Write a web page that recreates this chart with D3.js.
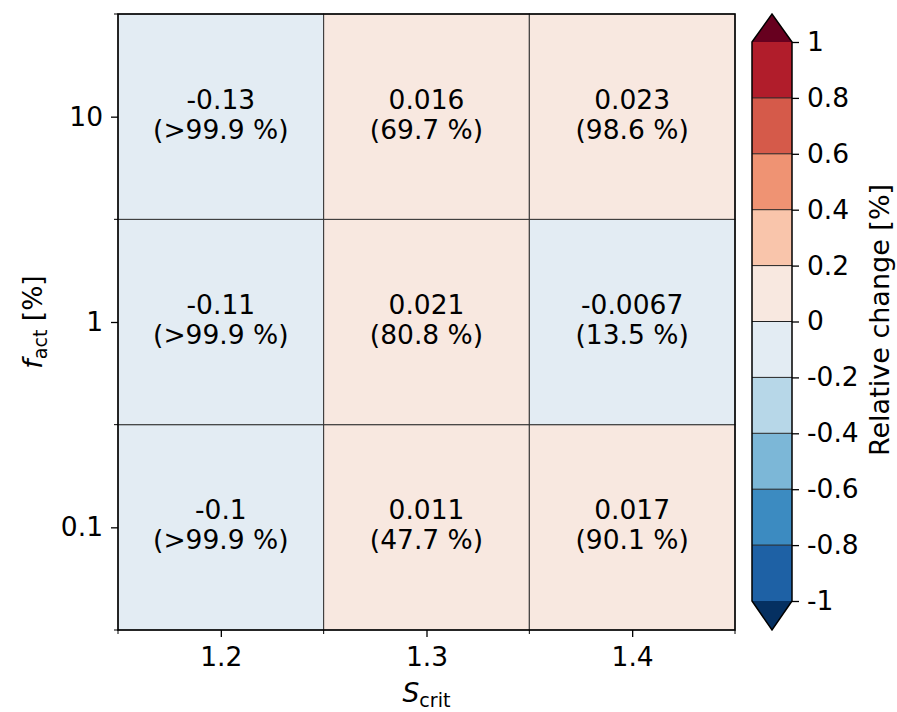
<!DOCTYPE html>
<html><head><meta charset="utf-8">
<script src="https://cdn.jsdelivr.net/npm/d3@7"></script>
<style>body{margin:0;background:#fff}svg{display:block;font-family:"DejaVu Sans",sans-serif}</style>
</head><body><svg id="c" width="897" height="712"></svg>
<script>
const sCrit = [1.2, 1.3, 1.4];
const fAct = [0.1, 1, 10];
const valLabels = [ // rows by fAct (0.1, 1, 10), columns by sCrit
  ["-0.1", "0.011", "0.017"],
  ["-0.11", "0.021", "-0.0067"],
  ["-0.13", "0.016", "0.023"]
];
const values = [
  [-0.1, 0.011, 0.017],
  [-0.11, 0.021, -0.0067],
  [-0.13, 0.016, 0.023]
];
const probs = [
  [">99.9", "47.7", "90.1"],
  [">99.9", "80.8", "13.5"],
  [">99.9", "69.7", "98.6"]
];
const levels = [-1, -0.8, -0.6, -0.4, -0.2, 0, 0.2, 0.4, 0.6, 0.8, 1];
const levelLabels = ["-1", "-0.8", "-0.6", "-0.4", "-0.2", "0", "0.2", "0.4", "0.6", "0.8", "1"];
const binColors = ["#1e61a5", "#3c8bc1", "#7cb7d7", "#b7d7e8", "#e3ecf3", "#f8e8e0", "#f9c5ab", "#ef9373", "#d55a4a", "#b11d2b"];
const underColor = "#053061", overColor = "#67001f";

const svg = d3.select("#c");
const L = 118, R = 735, T = 14, B = 630;
const FS = 26.5;
const x = d3.scaleLinear().domain([1.15, 1.45]).range([L, R]);
const y = d3.scaleLog().domain([Math.pow(10, -1.5), Math.pow(10, 1.5)]).range([B, T]);
const color = d3.scaleThreshold().domain(levels).range([underColor, ...binColors, overColor]);

const g = svg.append("g");
values.forEach((row, i) => row.forEach((v, j) => {
  const x0 = x(sCrit[j] - 0.05), x1 = x(sCrit[j] + 0.05);
  const y0 = y(fAct[i] * Math.sqrt(10)), y1 = y(fAct[i] / Math.sqrt(10));
  g.append("rect").attr("x", x0).attr("y", y0).attr("width", x1 - x0).attr("height", y1 - y0)
    .attr("fill", color(v)).attr("stroke", "#333").attr("stroke-width", 1);
  const cx = x(sCrit[j]), cy = y(fAct[i]);
  const t = g.append("text").attr("x", cx).attr("text-anchor", "middle").attr("font-size", FS).attr("fill", "#000");
  t.append("tspan").attr("x", cx).attr("y", cy - 8).text(valLabels[i][j]);
  t.append("tspan").attr("x", cx).attr("y", cy + 22).text("(" + probs[i][j] + " %)");
}));
svg.append("rect").attr("x", L).attr("y", T).attr("width", R - L).attr("height", B - T)
  .attr("fill", "none").attr("stroke", "#000").attr("stroke-width", 1.5);

// axes
const xAxis = d3.axisBottom(x).tickValues(sCrit).tickFormat(d3.format(".1f")).tickSize(7).tickPadding(10);
const xa = svg.append("g").attr("transform", `translate(0,${B})`).call(xAxis);
xa.select(".domain").remove();
xa.selectAll("text").attr("font-size", FS).attr("font-family", "DejaVu Sans").attr("fill", "#000");
xa.selectAll("line").attr("stroke", "#000").attr("stroke-width", 1.3);
const xMinor = [1.15, 1.25, 1.35, 1.45];
svg.append("g").selectAll("line").data(xMinor).join("line")
  .attr("x1", d => x(d)).attr("x2", d => x(d)).attr("y1", B).attr("y2", B + 4)
  .attr("stroke", "#000").attr("stroke-width", 1);

const yAxis = d3.axisLeft(y).tickValues(fAct).tickFormat(d => String(d)).tickSize(7).tickPadding(8);
const ya = svg.append("g").attr("transform", `translate(${L},0)`).call(yAxis);
ya.select(".domain").remove();
ya.selectAll("text").attr("font-size", FS).attr("font-family", "DejaVu Sans").attr("fill", "#000");
ya.selectAll("line").attr("stroke", "#000").attr("stroke-width", 1.3);
const yMinor = fAct.map(d => d / Math.sqrt(10)).concat([fAct[2] * Math.sqrt(10)]);
svg.append("g").selectAll("line").data(yMinor).join("line")
  .attr("y1", d => y(d)).attr("y2", d => y(d)).attr("x1", L - 4).attr("x2", L)
  .attr("stroke", "#000").attr("stroke-width", 1);

// axis labels
const xl = svg.append("text").attr("x", (L + R) / 2).attr("y", 702).attr("text-anchor", "middle").attr("font-size", FS);
xl.append("tspan").attr("font-style", "italic").text("S");
xl.append("tspan").attr("font-size", FS * 0.72).attr("dy", 5).text("crit");
const yl = svg.append("text").attr("transform", `translate(42,${(T + B) / 2}) rotate(-90)`).attr("text-anchor", "middle").attr("font-size", FS);
yl.append("tspan").attr("font-style", "italic").text("f");
yl.append("tspan").attr("font-size", FS * 0.72).attr("dy", 5).text("act");
yl.append("tspan").attr("dy", -5).text(" [%]");

// colorbar
const cL = 752, cR = 792;
const cy = d3.scaleLinear().domain([-1, 1]).range([601, 42]);
const cb = svg.append("g");
for (let k = 0; k < binColors.length; k++) {
  cb.append("rect").attr("x", cL).attr("y", cy(levels[k + 1])).attr("width", cR - cL)
    .attr("height", cy(levels[k]) - cy(levels[k + 1])).attr("fill", binColors[k]);
}
cb.append("path").attr("d", `M${cL},${cy(1)}L${(cL + cR) / 2},${T}L${cR},${cy(1)}Z`).attr("fill", overColor);
cb.append("path").attr("d", `M${cL},${cy(-1)}L${(cL + cR) / 2},${B}L${cR},${cy(-1)}Z`).attr("fill", underColor);
cb.selectAll("line.sep").data(levels.slice(1, -1)).join("line").attr("class", "sep")
  .attr("x1", cL).attr("x2", cR).attr("y1", d => cy(d)).attr("y2", d => cy(d))
  .attr("stroke", "#222").attr("stroke-width", 1);
cb.append("path").attr("d", `M${cL},${cy(1)}L${(cL + cR) / 2},${T}L${cR},${cy(1)}L${cR},${cy(-1)}L${(cL + cR) / 2},${B}L${cL},${cy(-1)}Z`)
  .attr("fill", "none").attr("stroke", "#000").attr("stroke-width", 1.5);
const cAxis = d3.axisRight(cy).tickValues(levels).tickFormat((d, i) => levelLabels[i]).tickSize(7).tickPadding(8);
const ca = svg.append("g").attr("transform", `translate(${cR},0)`).call(cAxis);
ca.select(".domain").remove();
ca.selectAll("text").attr("font-size", FS).attr("font-family", "DejaVu Sans").attr("fill", "#000");
ca.selectAll("line").attr("stroke", "#000").attr("stroke-width", 1.3);
svg.append("text").attr("transform", `translate(889,320) rotate(-90)`).attr("text-anchor", "middle")
  .attr("font-size", 27).text("Relative change [%]");
</script></body></html>
